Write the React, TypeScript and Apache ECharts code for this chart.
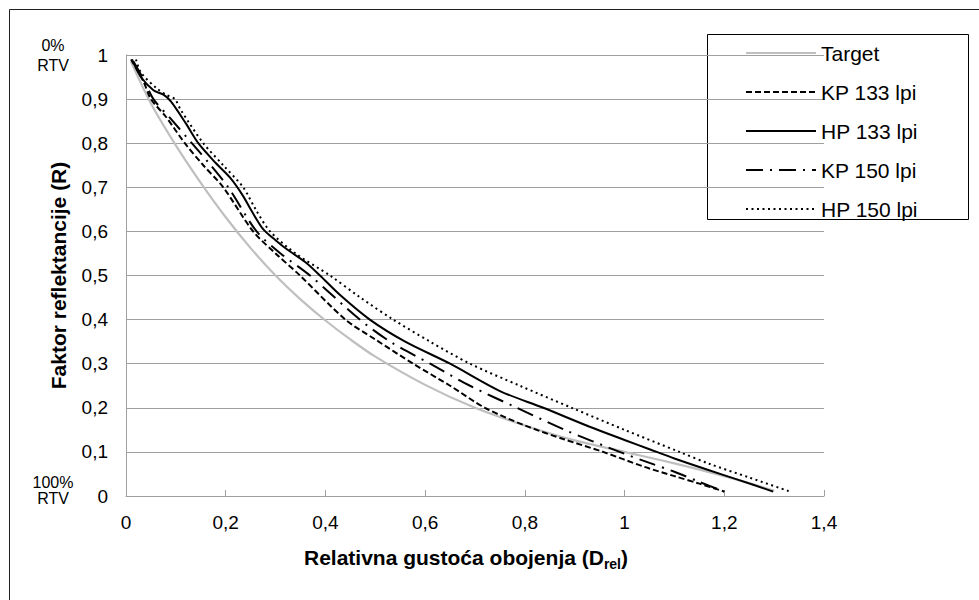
import React, { useEffect, useRef } from 'react';
import * as echarts from 'echarts';

// Series names (legend order)
const seriesNames = ['Target', 'KP 133 lpi', 'HP 133 lpi', 'KP 150 lpi', 'HP 150 lpi'];

// Target (grey)
const targetD = [0.01, 0.05, 0.1, 0.15, 0.2, 0.25, 0.3, 0.35, 0.4, 0.45, 0.5, 0.6, 0.7, 0.8, 0.9, 1.0, 1.1, 1.2, 1.3];
const targetR = [0.985, 0.89, 0.795, 0.71, 0.632, 0.562, 0.5, 0.446, 0.398, 0.355, 0.316, 0.252, 0.2, 0.16, 0.126, 0.1, 0.074, 0.045, 0.012];

// KP 133 lpi (dashed)
const kp133D = [0.01, 0.035, 0.05, 0.08, 0.118, 0.155, 0.195, 0.255, 0.3, 0.349, 0.44, 0.5, 0.576, 0.65, 0.72, 0.8, 0.88, 0.957, 1.04, 1.1, 1.15, 1.2];
const kp133R = [0.99, 0.94, 0.9, 0.86, 0.8, 0.75, 0.7, 0.6, 0.55, 0.5, 0.4, 0.355, 0.3, 0.25, 0.2, 0.16, 0.128, 0.1, 0.066, 0.045, 0.028, 0.01];

// HP 133 lpi (solid)
const hp133D = [0.012, 0.03, 0.055, 0.075, 0.09, 0.12, 0.145, 0.18, 0.21, 0.235, 0.25, 0.275, 0.3, 0.322, 0.36, 0.389, 0.43, 0.489, 0.56, 0.65, 0.75, 0.837, 0.93, 1.0, 1.05, 1.1, 1.165, 1.23, 1.298];
const hp133R = [0.99, 0.95, 0.92, 0.91, 0.895, 0.845, 0.8, 0.755, 0.72, 0.68, 0.65, 0.605, 0.58, 0.56, 0.53, 0.5, 0.455, 0.4, 0.35, 0.3, 0.238, 0.2, 0.157, 0.127, 0.106, 0.085, 0.06, 0.036, 0.01];

// KP 150 lpi (dash-dot)
const kp150D = [0.015, 0.035, 0.055, 0.09, 0.132, 0.17, 0.205, 0.262, 0.31, 0.369, 0.469, 0.53, 0.61, 0.69, 0.784, 0.88, 0.99, 1.05, 1.1, 1.15, 1.2];
const kp150R = [0.985, 0.945, 0.9, 0.855, 0.8, 0.75, 0.7, 0.6, 0.55, 0.5, 0.4, 0.35, 0.3, 0.25, 0.2, 0.15, 0.1, 0.075, 0.055, 0.032, 0.01];

// HP 150 lpi (dotted)
const hp150D = [0.02, 0.03, 0.062, 0.082, 0.098, 0.11, 0.155, 0.195, 0.235, 0.26, 0.289, 0.34, 0.409, 0.47, 0.536, 0.61, 0.69, 0.79, 0.894, 1.0, 1.11, 1.17, 1.25, 1.332];
const hp150R = [0.99, 0.96, 0.924, 0.909, 0.9, 0.875, 0.8, 0.75, 0.7, 0.65, 0.6, 0.55, 0.5, 0.45, 0.4, 0.35, 0.3, 0.25, 0.2, 0.15, 0.1, 0.073, 0.042, 0.01];

const xAxisTitle = 'Relativna gustoća obojenja (D';
const xAxisSub = 'rel';
const yAxisTitle = 'Faktor reflektancije (R)';

const FONT = '"Liberation Sans", Arial, sans-serif';

const zip = (xs: number[], ys: number[]) => xs.map((x, i) => [x, ys[i]]);
const fmt = (v: number) => String(Math.round(v * 10) / 10).replace('.', ',');

export default function App() {
  const ref = useRef<HTMLDivElement>(null);
  useEffect(() => {
    if (!ref.current) return;
    const chart = echarts.init(ref.current, undefined, { renderer: 'svg' });
    const styles = [
      { color: '#bfbfbf', width: 2.2, type: 'solid' as any },
      { color: '#000', width: 2, type: [6, 3] },
      { color: '#000', width: 2, type: 'solid' as any },
      { color: '#000', width: 2, type: [17, 7, 2, 7] },
      { color: '#000', width: 2, type: [2, 3.5] },
    ];
    const datas = [
      zip(targetD, targetR),
      zip(kp133D, kp133R),
      zip(hp133D, hp133R),
      zip(kp150D, kp150R),
      zip(hp150D, hp150R),
    ];
    const label = (text: string, x: number, y: number) => ({
      type: 'text', x, y,
      style: { text, fontSize: 16, fontFamily: FONT, fill: '#000', align: 'center', verticalAlign: 'middle' },
    });
    chart.setOption({
      animation: false,
      backgroundColor: '#fff',
      textStyle: { fontFamily: FONT },
      grid: { left: 126, top: 55, width: 698, height: 441, containLabel: false },
      xAxis: {
        type: 'value',
        min: 0,
        max: 1.4,
        interval: 0.2,
        axisLine: { show: true, lineStyle: { color: '#a0a0a0', width: 1 } },
        axisTick: { show: true, inside: true, length: 6, lineStyle: { color: '#a0a0a0' } },
        splitLine: { show: false },
        axisLabel: { formatter: fmt, color: '#000', fontSize: 19, fontFamily: FONT, margin: 17 },
        name: `{a|${xAxisTitle}}{s|${xAxisSub}}{a|)}`,
        nameLocation: 'middle',
        nameGap: 47,
        nameTextStyle: {
          padding: [0, 18, 0, 0],
          rich: {
            a: { fontSize: 21, fontWeight: 'bold', fontFamily: FONT, color: '#000', lineHeight: 28, verticalAlign: 'middle' },
            s: { fontSize: 14, fontWeight: 'bold', fontFamily: FONT, color: '#000', lineHeight: 15, verticalAlign: 'bottom' },
          },
        },
      },
      yAxis: {
        type: 'value',
        min: 0,
        max: 1,
        interval: 0.1,
        axisLine: { show: true, lineStyle: { color: '#a0a0a0', width: 1 } },
        axisTick: { show: false },
        splitLine: { show: true, lineStyle: { color: '#a0a0a0', width: 1 } },
        axisLabel: { formatter: fmt, color: '#000', fontSize: 19, fontFamily: FONT, margin: 18 },
        name: yAxisTitle,
        nameLocation: 'middle',
        nameGap: 57,
        nameRotate: 90,
        nameTextStyle: { fontSize: 21, fontWeight: 'bold', fontFamily: FONT, color: '#000' },
      },
      legend: {
        orient: 'vertical',
        left: 745,
        top: 42,
        padding: 0,
        itemWidth: 70,
        itemHeight: 14,
        itemGap: 17,
        data: seriesNames,
        itemStyle: { opacity: 0 },
        textStyle: { fontSize: 21, lineHeight: 22, color: '#000', fontFamily: FONT },
      },
      graphic: [
        { type: 'rect', silent: true, z: -1, shape: { x: 9.5, y: 9.5, width: 1100, height: 1100 }, style: { fill: 'none', stroke: '#202020', lineWidth: 1 } },
        { type: 'rect', silent: true, shape: { x: 707.5, y: 34.5, width: 261, height: 185 }, style: { fill: 'none', stroke: '#000', lineWidth: 1 } },
        label('0%', 53, 45),
        label('RTV', 53, 65),
        label('100%', 53, 482),
        label('RTV', 53, 498),
      ],
      series: seriesNames.map((name, i) => ({
        name,
        type: 'line',
        data: datas[i],
        symbol: 'none',
        showSymbol: false,
        smooth: 0.3,
        z: i === 0 ? 1 : 2,
        lineStyle: { color: styles[i].color, width: styles[i].width, type: styles[i].type, cap: 'butt' },
        itemStyle: { color: styles[i].color },
      })),
    });
    return () => chart.dispose();
  }, []);
  return <div ref={ref} style={{ position: 'absolute', left: 0, top: 0, width: 979, height: 600 }} />;
}
